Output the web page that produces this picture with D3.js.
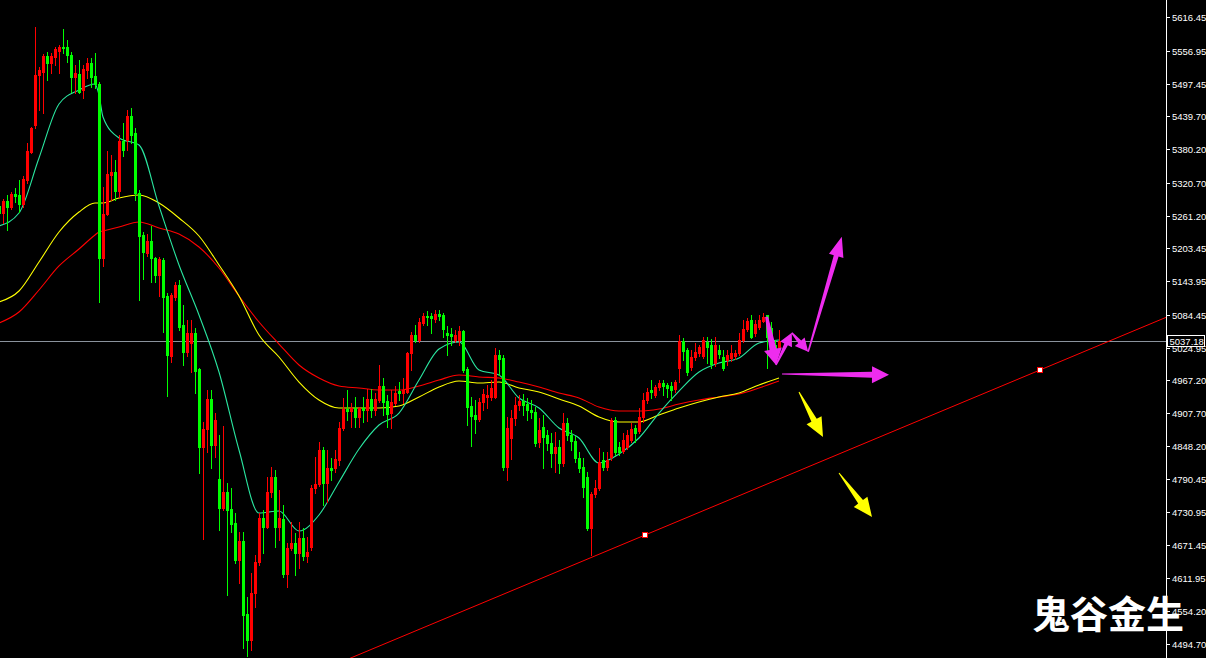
<!DOCTYPE html>
<html><head><meta charset="utf-8">
<script src="https://cdn.jsdelivr.net/npm/d3@7"></script>
<style>html,body{margin:0;padding:0;background:#000;overflow:hidden}svg{display:block}</style>
</head><body>
<svg id="c" width="1206" height="658"></svg>
<script>
const opens = [5278.7,5266.1,5287.6,5276.9,5300.1,5298.4,5282.2,5325.2,5375.3,5423.7,5513.2,5518.5,5547.2,5534.6,5545.4,5556.1,5563.3,5563.3,5549.0,5509.6,5514.9,5486.3,5522.1,5534.6,5511.4,5497.0,5185.6,5264.3,5334.2,5339.5,5305.5,5395.0,5396.8,5439.8,5409.3,5301.9,5226.8,5194.5,5216.0,5185.6,5155.2,5182.0,5117.6,5010.2,5115.8,5137.3,5065.7,5017.3,5033.4,5051.3,4986.9,4847.3,4879.5,4933.2,4850.9,4790.0,4738.1,4766.7,4736.3,4711.2,4645.0,4679.0,4548.3,4501.8,4585.9,4641.4,4720.2,4704.1,4766.7,4793.6,4704.1,4718.4,4619.9,4666.5,4675.4,4657.5,4684.4,4652.2,4668.3,4773.9,4781.0,4841.9,4782.8,4809.7,4809.7,4824.0,4881.3,4915.3,4911.7,4917.1,4901.0,4917.1,4913.5,4933.2,4913.5,4931.4,4956.5,4929.6,4908.1,4926.0,4947.5,4943.9,4945.7,5015.5,5047.8,5038.8,5069.2,5081.8,5081.8,5076.4,5085.3,5083.6,5051.3,5049.5,5038.8,5038.8,5054.9,4986.9,4920.7,4904.6,4897.4,4927.8,4936.8,4936.8,4936.8,5012.0,5006.6,4811.5,4863.4,4899.2,4922.5,4929.6,4924.2,4913.5,4909.9,4856.2,4883.1,4868.8,4854.4,4836.5,4847.3,4818.6,4890.2,4868.8,4858.0,4827.6,4811.5,4793.6,4702.3,4763.1,4773.9,4824.0,4811.5,4829.4,4895.6,4847.3,4840.1,4847.3,4859.8,4881.3,4875.9,4901.0,4931.4,4949.3,4940.4,4954.7,4961.8,4958.3,4956.5,4951.1,4988.7,5037.0,5020.9,4990.5,5008.4,5015.5,5010.2,5035.2,5029.9,4997.6,5020.9,5008.4,5003.0,5006.6,5010.2,5015.5,5038.8,5058.5,5074.6,5051.3,5062.1,5072.8,5083.6,5060.3,5029.9,5026.3];
const highs = [5284.0,5291.2,5298.4,5303.7,5310.9,5325.2,5332.4,5391.4,5420.1,5599.1,5527.5,5550.7,5554.3,5552.5,5563.3,5566.9,5595.5,5575.8,5554.3,5531.1,5540.0,5531.1,5543.6,5543.6,5552.5,5500.6,5312.7,5377.1,5370.0,5361.0,5405.8,5427.2,5450.5,5454.1,5418.3,5307.3,5232.1,5228.5,5242.9,5187.4,5187.4,5185.6,5122.9,5122.9,5142.6,5146.2,5101.5,5074.6,5074.6,5060.3,4988.7,4892.0,4949.3,4949.3,4908.1,4868.8,4884.9,4782.8,4773.9,4729.1,4695.1,4695.1,4578.8,4621.7,4654.0,4729.1,4734.5,4793.6,4811.5,4806.1,4770.3,4743.5,4675.4,4713.0,4693.3,4713.0,4702.3,4686.2,4779.3,4829.4,4856.2,4847.3,4841.9,4827.6,4841.9,4892.0,4935.0,4949.3,4926.0,4936.8,4918.9,4936.8,4951.1,4951.1,4943.9,4994.1,4970.8,4940.4,4949.3,4956.5,4963.6,4970.8,5017.3,5053.1,5065.7,5078.2,5087.1,5090.7,5087.1,5092.5,5092.5,5087.1,5063.9,5060.3,5056.7,5063.9,5056.7,4990.5,4936.8,4931.4,4935.0,4951.1,4958.3,4967.2,5024.5,5020.9,5012.0,4901.0,4913.5,4936.8,4940.4,4942.1,4935.0,4931.4,4918.9,4899.2,4904.6,4877.7,4872.3,4874.1,4859.8,4908.1,4899.2,4877.7,4867.0,4838.3,4827.6,4802.5,4766.7,4788.2,4845.5,4838.3,4838.3,4899.2,4901.0,4856.2,4872.3,4877.7,4890.2,4886.7,4917.1,4943.9,4952.9,4967.2,4958.3,4967.2,4967.2,4961.8,4963.6,4967.2,5047.8,5042.4,5024.5,5020.9,5033.4,5029.9,5044.2,5044.2,5040.6,5044.2,5029.9,5020.9,5020.9,5029.9,5020.9,5051.3,5074.6,5078.2,5083.6,5074.6,5083.6,5087.1,5083.6,5071.0,5038.8,5056.7];
const lows = [5260.8,5248.2,5235.7,5273.3,5285.8,5267.9,5276.9,5319.8,5373.5,5418.3,5450.5,5445.1,5504.2,5516.7,5531.1,5516.7,5552.5,5536.4,5482.7,5480.9,5480.9,5472.0,5507.8,5491.7,5489.9,5106.8,5171.3,5262.6,5289.4,5289.4,5294.8,5368.2,5378.9,5391.4,5289.4,5110.4,5148.0,5189.2,5142.6,5142.6,5117.6,5053.1,4938.6,4999.4,5110.4,5056.7,4994.1,5010.2,4981.5,4943.9,4800.7,4682.6,4838.3,4809.7,4829.4,4698.7,4734.5,4582.4,4695.1,4639.6,4603.8,4487.5,4473.2,4483.9,4560.9,4636.1,4657.5,4702.3,4757.8,4668.3,4680.8,4614.6,4596.7,4662.9,4618.2,4630.7,4645.0,4641.4,4662.9,4764.9,4777.5,4743.5,4748.8,4788.2,4802.5,4815.1,4877.7,4895.6,4883.1,4883.1,4883.1,4892.0,4893.8,4901.0,4904.6,4927.8,4904.6,4883.1,4881.3,4922.5,4931.4,4926.0,4943.9,4985.1,5035.2,5035.2,5065.7,5065.7,5051.3,5071.0,5074.6,5044.2,5012.0,5029.9,5035.2,5029.9,4981.5,4886.7,4849.1,4872.3,4893.8,4913.5,4917.1,4931.4,4935.0,4976.2,4806.1,4788.2,4825.8,4886.7,4913.5,4904.6,4895.6,4899.2,4849.1,4847.3,4809.7,4841.9,4811.5,4802.5,4800.7,4813.3,4859.8,4841.9,4820.4,4802.5,4757.8,4698.7,4654.0,4757.8,4770.3,4806.1,4806.1,4824.0,4833.0,4833.0,4836.5,4843.7,4856.2,4856.2,4872.3,4892.0,4926.0,4935.0,4936.8,4949.3,4940.4,4936.8,4931.4,4945.7,4963.6,5003.0,4976.2,4985.1,5003.0,5010.2,5006.6,4997.6,4988.7,4992.3,5006.6,4985.1,4994.1,5001.2,5004.8,5012.0,5035.2,5054.9,5042.4,5046.0,5058.5,5071.0,4988.7,5012.0,5006.6,5017.3];
const closes = [5266.1,5287.6,5276.9,5300.1,5296.6,5282.2,5327.0,5377.1,5418.3,5513.2,5522.1,5547.2,5534.6,5547.2,5559.7,5563.3,5561.5,5549.0,5509.6,5516.7,5482.7,5523.9,5534.6,5509.6,5497.0,5185.6,5264.3,5335.9,5339.5,5305.5,5395.0,5378.9,5439.8,5405.8,5301.9,5225.0,5196.3,5216.0,5185.6,5155.2,5183.8,5115.8,5012.0,5119.4,5137.3,5062.1,5017.3,5051.3,5051.3,4983.3,4847.3,4879.5,4933.2,4850.9,4895.6,4738.1,4766.7,4734.5,4709.4,4645.0,4679.0,4546.6,4501.8,4585.9,4641.4,4720.2,4704.1,4766.7,4793.6,4704.1,4720.2,4619.9,4666.5,4675.4,4657.5,4684.4,4652.2,4659.3,4773.9,4781.0,4841.9,4782.8,4809.7,4806.1,4825.8,4881.3,4915.3,4911.7,4917.1,4901.0,4917.1,4913.5,4933.2,4913.5,4933.2,4956.5,4927.8,4906.3,4927.8,4943.9,4943.9,4949.3,5015.5,5047.8,5038.8,5071.0,5081.8,5080.0,5078.2,5085.3,5081.8,5058.5,5047.8,5046.0,5047.8,5054.9,4985.1,4918.9,4902.8,4897.4,4927.8,4942.1,4940.4,4952.9,5012.0,5004.8,4811.5,4881.3,4899.2,4922.5,4929.6,4922.5,4913.5,4909.9,4854.4,4877.7,4865.2,4854.4,4836.5,4847.3,4818.6,4890.2,4868.8,4858.0,4827.6,4809.7,4775.7,4702.3,4763.1,4773.9,4820.4,4811.5,4824.0,4895.6,4838.3,4838.3,4859.8,4868.8,4879.5,4872.3,4901.0,4931.4,4945.7,4945.7,4954.7,4961.8,4956.5,4952.9,4949.3,4963.6,5037.0,5019.1,4981.5,5008.4,5017.3,5026.3,5038.8,5026.3,4995.8,5029.9,5013.7,4988.7,5012.0,5015.5,5015.5,5038.8,5058.5,5072.8,5044.2,5067.4,5074.6,5080.0,5044.2,5024.5,5020.9,5037.18];

const maIndex = [0,5,10,15,20,24,25,26,30,35,40,45,50,55,60,65,70,75,80,85,90,95,100,105,110,115,120,125,130,135,140,145,150,155,160,165,170,175,180,185,190,195];
const maFast = [5242.9,5266.1,5364.6,5461.2,5486.3,5497.0,5477.4,5438.0,5400.4,5387.9,5278.7,5173.1,5083.6,4981.5,4841.9,4729.1,4732.7,4696.9,4725.6,4784.6,4843.7,4886.7,4908.1,4967.2,5022.7,5035.2,4985.1,4976.2,4935.0,4917.1,4881.3,4863.4,4818.6,4834.7,4863.4,4908.1,4947.5,4981.5,4997.6,5006.6,5033.4,5038.8];
const maMid = [5106.8,5126.5,5178.4,5232.1,5267.9,5284.0,5284.0,5284.0,5293.0,5298.4,5284.0,5257.2,5225.0,5173.1,5117.6,5047.8,5008.4,4963.6,4931.4,4917.1,4917.1,4917.1,4920.7,4936.8,4954.7,4965.4,4961.8,4963.6,4952.9,4945.7,4933.2,4920.7,4901.0,4892.0,4892.0,4904.6,4917.1,4927.8,4936.8,4943.9,4958.3,4970.8];
const maSlow = [5069.2,5088.9,5128.3,5171.3,5201.7,5226.8,5232.1,5233.9,5241.1,5250.0,5239.3,5228.5,5205.3,5167.7,5117.6,5071.0,5031.6,4994.1,4970.8,4956.5,4952.9,4949.3,4949.3,4956.5,4967.2,4976.2,4972.6,4970.8,4963.6,4954.7,4943.9,4935.0,4918.9,4911.7,4911.7,4915.3,4924.2,4931.4,4936.8,4942.1,4952.9,4965.4];

const tickLabels = [5616.45,5556.95,5497.45,5439.70,5380.20,5320.70,5261.20,5203.45,5143.95,5084.45,5024.95,4967.20,4907.70,4848.20,4790.45,4730.95,4671.45,4611.95,4554.20,4494.70];
const lastPrice = 5037.18;
const trendAnchors = [[161.5, 4689.7], [260.25, 4985.1]];
const magentaArrows = [[191.9,5080.5,194.25,4994.1],[194.25,4994.1,198.2,5051.9],[198.2,5051.9,202.3,5017.9],[202.3,5017.9,210.7,5223.7],[195.75,4977.9,222.5,4976.5]];
const yellowArrows = [[200,4945.7,206,4865.2],[210,4800.7,218.25,4722.0]];
const watermark = "鬼谷金生";

const W = 1206, H = 658, axisX = 1166;
const svg = d3.select("#c");
svg.append("rect").attr("width", W).attr("height", H).attr("fill", "#000");

const x = d3.scaleLinear().domain([0, 195]).range([-1, 779]);
const y = d3.scaleLinear().domain([4469.6, 5647.4]).range([H, 0]);

svg.append("clipPath").attr("id", "plot").append("rect").attr("x", 0).attr("y", 0).attr("width", axisX).attr("height", H);
const g = svg.append("g").attr("clip-path", "url(#plot)");

// current price line
g.append("line").attr("x1", 0).attr("x2", axisX).attr("y1", Math.round(y(lastPrice)) + 0.5).attr("y2", Math.round(y(lastPrice)) + 0.5)
  .attr("stroke", "#8a929c").attr("stroke-width", 1);

// moving averages
const maLine = d3.line().x((d) => x(d[0])).y((d) => y(d[1])).curve(d3.curveMonotoneX);
[[maSlow, "#ff0000"], [maMid, "#ffff00"], [maFast, "#2ae6a0"]].forEach(([arr, col]) => {
  g.append("path").datum(maIndex.map((k, j) => [k, arr[j]])).attr("d", maLine)
    .attr("fill", "none").attr("stroke", col).attr("stroke-width", 1.1);
});

// candles
const candles = opens.map((o, i) => ({ i, o, h: highs[i], l: lows[i], c: closes[i] }));
const cg = g.append("g").attr("shape-rendering", "crispEdges");
candles.forEach((d) => {
  const cx = Math.round(x(d.i));
  const up = d.c >= d.o;
  const col = up ? "#ff0000" : "#00ff00";
  const top = Math.max(d.o, d.c), bot = Math.min(d.o, d.c);
  const yh = Math.round(y(Math.max(d.h, top))), yl = Math.round(y(Math.min(d.l, bot)));
  cg.append("rect").attr("x", cx).attr("y", yh).attr("width", 1).attr("height", Math.max(1, yl - yh + 1)).attr("fill", col);
  const yt = Math.round(y(top)), yb = Math.round(y(bot));
  cg.append("rect").attr("x", cx - 1).attr("y", yt).attr("width", 3).attr("height", Math.max(1, yb - yt + 1)).attr("fill", col);
});

// trend line
const slope = (trendAnchors[1][1] - trendAnchors[0][1]) / (trendAnchors[1][0] - trendAnchors[0][0]);
const tAt = (k) => trendAnchors[0][1] + slope * (k - trendAnchors[0][0]);
const k0 = x.invert(0), k1 = x.invert(axisX);
g.append("line").attr("x1", x(k0)).attr("y1", y(tAt(k0))).attr("x2", x(k1)).attr("y2", y(tAt(k1)))
  .attr("stroke", "#ff0000").attr("stroke-width", 1);
trendAnchors.forEach((a) => {
  g.append("rect").attr("x", Math.round(x(a[0])) - 2.5).attr("y", Math.round(y(a[1])) - 2.5).attr("width", 5).attr("height", 5)
    .attr("fill", "#fff").attr("stroke", "#ff0000").attr("stroke-width", 1);
});

// arrows
function arrowPath(a, headLen, headW, shaftW, tailW) {
  const x0 = x(a[0]), y0 = y(a[1]), x1 = x(a[2]), y1 = y(a[3]);
  const dx = x1 - x0, dy = y1 - y0, L = Math.hypot(dx, dy);
  const ux = dx / L, uy = dy / L, nx = -uy, ny = ux;
  const bx = x1 - ux * headLen, by = y1 - uy * headLen;
  const p = [
    [x0 + nx * tailW / 2, y0 + ny * tailW / 2],
    [bx + nx * shaftW / 2, by + ny * shaftW / 2],
    [bx + nx * headW / 2, by + ny * headW / 2],
    [x1, y1],
    [bx - nx * headW / 2, by - ny * headW / 2],
    [bx - nx * shaftW / 2, by - ny * shaftW / 2],
    [x0 - nx * tailW / 2, y0 - ny * tailW / 2]
  ];
  return "M" + p.map((q) => q.join(",")).join("L") + "Z";
}
const magStyle = [[16, 18, 7, 3], [13, 13, 4, 1.5], [13, 13, 4, 1.5], [20, 15, 5, 1.5], [17, 17, 6, 1]];
magentaArrows.forEach((a, j) => {
  const s = magStyle[j];
  g.append("path").attr("d", arrowPath(a, s[0], s[1], s[2], s[3])).attr("fill", "#ee2cee");
});
yellowArrows.forEach((a) => {
  g.append("path").attr("d", arrowPath(a, 19, 17, 6, 1)).attr("fill", "#ffff00");
});

// axis
const ax = svg.append("g").attr("shape-rendering", "crispEdges");
ax.append("rect").attr("x", axisX).attr("y", 0).attr("width", 1).attr("height", H).attr("fill", "#fff");
tickLabels.forEach((v) => {
  const ty = Math.round(y(v));
  ax.append("rect").attr("x", axisX + 1).attr("y", ty).attr("width", 3).attr("height", 1).attr("fill", "#fff");
  svg.append("text").attr("x", axisX + 6).attr("y", ty + 3.5).text(v.toFixed(2))
    .attr("fill", "#fff").attr("font-family", "Liberation Sans, Arial, sans-serif").attr("font-size", 9.5);
});
// last price label
const ly = Math.round(y(lastPrice));
svg.append("rect").attr("x", axisX + 1.5).attr("y", ly - 5.5).attr("width", W - axisX - 3).attr("height", 11)
  .attr("fill", "#000").attr("stroke", "#fff").attr("stroke-width", 1);
svg.append("text").attr("x", axisX + 3.5).attr("y", ly + 4).text(lastPrice.toFixed(2))
  .attr("fill", "#fff").attr("font-family", "Liberation Sans, Arial, sans-serif").attr("font-size", 9.5);

// watermark
svg.append("text").attr("x", 1032).attr("y", 628).text(watermark)
  .attr("fill", "#fff").attr("font-family", "Noto Sans CJK SC, sans-serif").attr("font-weight", 700).attr("font-size", 38);
</script>
</body></html>
